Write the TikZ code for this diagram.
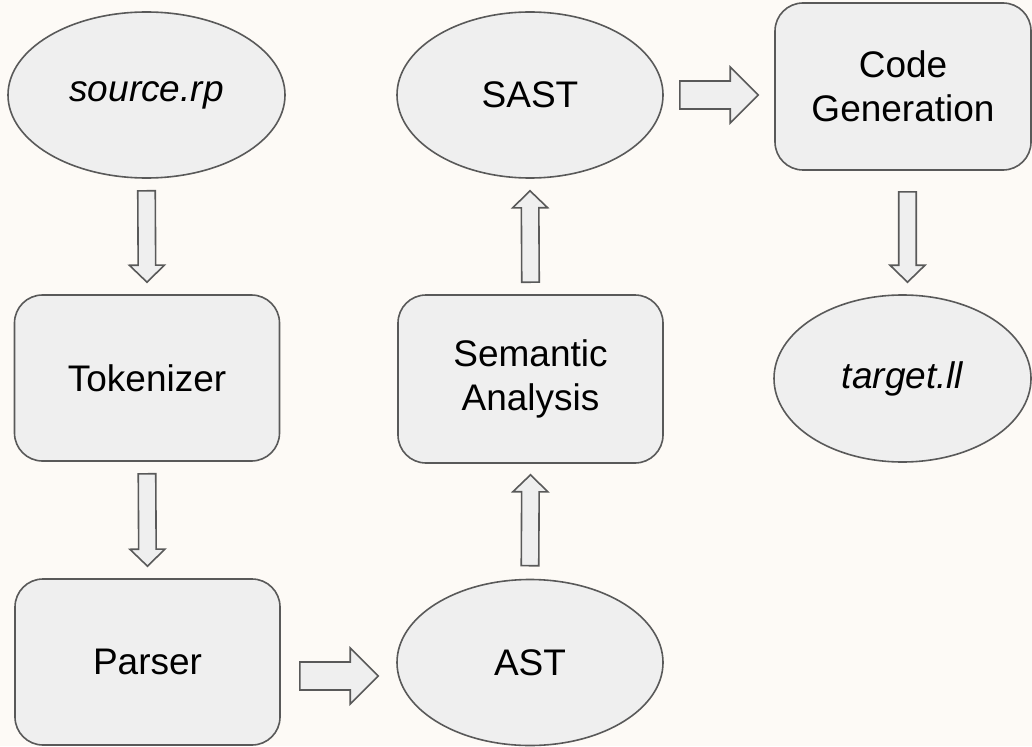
\documentclass[tikz,border=0pt]{standalone}
\usepackage{fontspec}
\setmainfont{Liberation Sans}
\usetikzlibrary{shapes.geometric,calc}

\definecolor{pagebg}{HTML}{FDFAF6}
\definecolor{shapefill}{HTML}{EFEFEF}
\definecolor{shapeline}{HTML}{595959}

% Hollow block arrow: #1 half shaft width, #2 half head width,
% #3 head length, #4 tail coordinate, #5 tip coordinate
\newcommand\blockarrow[5]{%
  \coordinate (ba-h) at ($(#5)!#3!(#4)$);
  \draw[arrowbody]
    ($(#4)!#1!90:(#5)$) -- ($(ba-h)!#1!-90:(#4)$) -- ($(ba-h)!#2!-90:(#4)$)
    -- (#5) -- ($(ba-h)!#2!90:(#4)$) -- ($(ba-h)!#1!90:(#4)$)
    -- ($(#4)!#1!-90:(#5)$) -- cycle;
}

\tikzset{
  base/.style={draw=shapeline, fill=shapefill, line width=1.6pt, inner sep=0pt,
    font=\fontsize{37}{44}\selectfont, align=center, text=black},
  oval/.style={base, ellipse, minimum width=266pt, minimum height=166pt},
  stage/.style={base, rectangle, rounded corners=28pt, minimum width=265pt, minimum height=166pt},
  arrowbody/.style={draw=shapeline, fill=shapefill, line width=1.6pt, line join=miter},
}

\begin{document}
\begin{tikzpicture}[x=1pt, y=1pt]
  \useasboundingbox (0,0) rectangle (1032,-746);
  \fill[pagebg] (0,0) rectangle (1032,-746);

  % pipeline stages
  \node[oval, minimum width=277pt] (src) at (146.5,-95) {\itshape source.rp};
  \node[stage] (tok) at (147,-378) {Tokenizer};
  \node[stage] (par) at (147.5,-662) {Parser};
  \node[oval] (ast) at (530,-662.5) {AST};
  \node[stage, minimum height=168pt] (sem) at (530.5,-379) {Semantic\\Analysis};
  \node[oval] (sast) at (530,-95) {SAST};
  \node[stage, minimum width=256pt, minimum height=167pt] (code) at (903,-86.5) {Code\\Generation};
  \node[oval, minimum width=257pt, minimum height=167pt] (tgt) at (902.5,-378.5) {\itshape target.ll};

  % connector end points
  \coordinate (a1t) at ($(src.south)+(0,-12)$);
  \coordinate (a1h) at ($(tok.north)+(0,12)$);
  \coordinate (a2t) at ($(tok.south)+(0,-12)$);
  \coordinate (a2h) at ($(par.north)+(0,12)$);
  \coordinate (a3t) at ($(par.east)+(19,-14)$);
  \coordinate (a3h) at ($(a3t -| ast.west)+(-18,0)$);
  \coordinate (a4t) at ($(ast.north)+(0,13)$);
  \coordinate (a4h) at ($(sem.south)+(0,-11)$);
  \coordinate (a5t) at ($(sem.north)+(0,12)$);
  \coordinate (a5h) at ($(sast.south)+(0,-12)$);
  \coordinate (a6t) at ($(sast.east)+(16,0)$);
  \coordinate (a6h) at ($(a6t -| code.west)+(-16,0)$);
  \coordinate (a7t) at ($(code.south)+(4.5,-21)$);
  \coordinate (a7h) at ($(a7t |- tgt.north)+(0,12)$);

  % flow arrows
  \blockarrow{8.75pt}{17.5pt}{17pt}{a1t}{a1h}
  \blockarrow{8.75pt}{17.5pt}{17pt}{a2t}{a2h}
  \blockarrow{14pt}{28pt}{28pt}{a3t}{a3h}
  \blockarrow{8.75pt}{17.5pt}{17pt}{a4t}{a4h}
  \blockarrow{8.75pt}{17.5pt}{17pt}{a5t}{a5h}
  \blockarrow{14pt}{28pt}{28pt}{a6t}{a6h}
  \blockarrow{8.75pt}{17.5pt}{17pt}{a7t}{a7h}
\end{tikzpicture}
\end{document}
